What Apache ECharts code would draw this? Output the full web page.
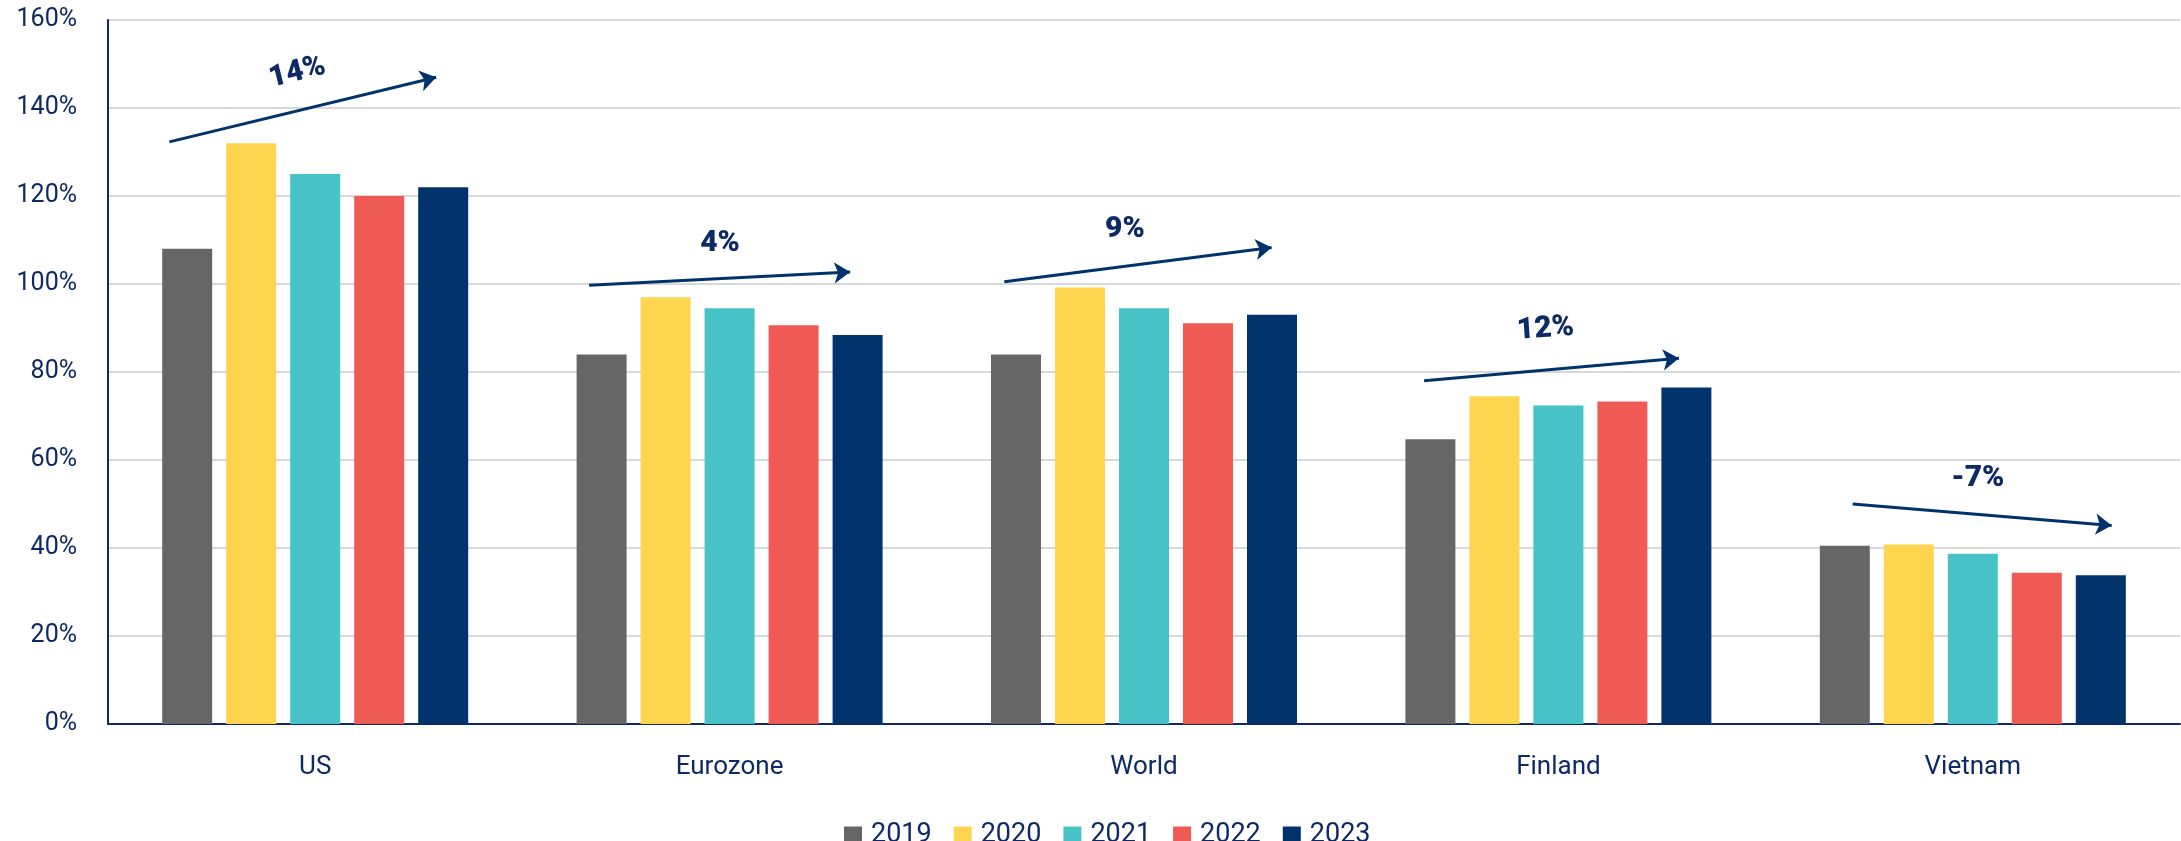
<!DOCTYPE html>
<html>
<head>
<meta charset="utf-8">
<script src="https://cdn.jsdelivr.net/npm/echarts@6/dist/echarts.min.js"></script>
<style>
html,body{margin:0;padding:0;background:#fff;}
#main{width:2181px;height:841px;}
</style>
</head>
<body>
<div id="main"></div>
<script>
const categories = ['US', 'Eurozone', 'World', 'Finland', 'Vietnam'];
const years = ['2019', '2020', '2021', '2022', '2023'];
const v2019 = [108, 84, 84, 64.7, 40.5];
const v2020 = [132, 97, 99.2, 74.5, 40.8];
const v2021 = [125, 94.5, 94.5, 72.4, 38.7];
const v2022 = [120, 90.6, 91.1, 73.3, 34.4];
const v2023 = [122, 88.4, 93, 76.5, 33.8];
const yTicks = [0, 20, 40, 60, 80, 100, 120, 140, 160];

// trend annotations: [offset from category centre (in categories), value %]
const trendLabels = ['14%', '4%', '9%', '12%', '-7%'];
const arrowStart = [[-0.352, 132.3], [-0.339, 99.7], [-0.337, 100.5], [-0.324, 78.0], [-0.29, 50.0]];
const arrowEnd = [[0.292, 147.0], [0.291, 102.7], [0.308, 108.3], [0.291, 83.1], [0.335, 45.1]];
const labelPos = [[-0.043, 148], [-0.023, 109.3], [-0.046, 112.3], [-0.031, 89.7], [0.012, 55.9]];
const labelRotate = [14, 0, 0, 4, 0];

const colors = ['#666666', '#FFD54F', '#47C3C8', '#F05A55', '#00336C'];
const values = [v2019, v2020, v2021, v2022, v2023];
const textColor = '#0D2A66';
const fontFamily = 'Roboto, "Noto Sans", sans-serif';

const chart = echarts.init(document.getElementById('main'), null, {renderer: 'canvas'});

const barSeries = years.map((y, i) => ({
  name: y,
  type: 'bar',
  xAxisIndex: 0,
  yAxisIndex: 0,
  data: values[i],
  barWidth: 50,
  barGap: '28%',
  itemStyle: {color: colors[i]},
  emphasis: {disabled: true}
}));

const arrowSeries = {
  type: 'lines',
  coordinateSystem: 'cartesian2d',
  xAxisIndex: 1,
  yAxisIndex: 0,
  symbol: ['none', 'arrow'],
  symbolSize: 16,
  lineStyle: {color: '#00336C', width: 3, opacity: 1, curveness: 0},
  silent: true,
  data: categories.map((c, i) => ({
    coords: [[i + arrowStart[i][0], arrowStart[i][1]], [i + arrowEnd[i][0], arrowEnd[i][1]]]
  }))
};

const labelSeries = {
  type: 'scatter',
  xAxisIndex: 1,
  yAxisIndex: 0,
  symbolSize: 0,
  silent: true,
  itemStyle: {opacity: 1},
  data: categories.map((c, i) => ({
    value: [i + labelPos[i][0], labelPos[i][1]],
    label: {
      show: true,
      position: 'inside',
      formatter: trendLabels[i],
      rotate: labelRotate[i],
      color: textColor,
      opacity: 1,
      fontFamily: fontFamily,
      fontWeight: 900,
      fontSize: 30
    }
  }))
};

chart.setOption({
  animation: false,
  color: colors,
  grid: {left: 108, right: 1, top: 20, bottom: 117, containLabel: false},
  legend: {
    data: years,
    left: 844,
    top: 822,
    padding: 0,
    icon: 'rect',
    itemWidth: 18,
    itemHeight: 18,
    itemGap: 22,
    textStyle: {color: textColor, fontFamily: fontFamily, fontSize: 27, lineHeight: 18, padding: [0, 0, 0, 4]}
  },
  xAxis: [{
    type: 'category',
    data: categories,
    axisLine: {show: true, lineStyle: {color: '#0D2A6B', width: 2}},
    axisTick: {show: false},
    axisLabel: {color: textColor, fontFamily: fontFamily, fontSize: 26, margin: 30}
  }, {
    type: 'value',
    min: -0.5,
    max: 4.5,
    show: false
  }],
  yAxis: [{
    type: 'value',
    min: yTicks[0],
    max: yTicks[yTicks.length - 1],
    interval: 20,
    axisLine: {show: true, onZero: false, lineStyle: {color: '#0D2A6B', width: 2}},
    axisTick: {show: false},
    splitLine: {show: true, lineStyle: {color: '#D9D9D9', width: 2}},
    axisLabel: {color: textColor, fontFamily: fontFamily, fontSize: 25, margin: 31, formatter: '{value}%'}
  }],
  series: [...barSeries, arrowSeries, labelSeries]
});
</script>
</body>
</html>
